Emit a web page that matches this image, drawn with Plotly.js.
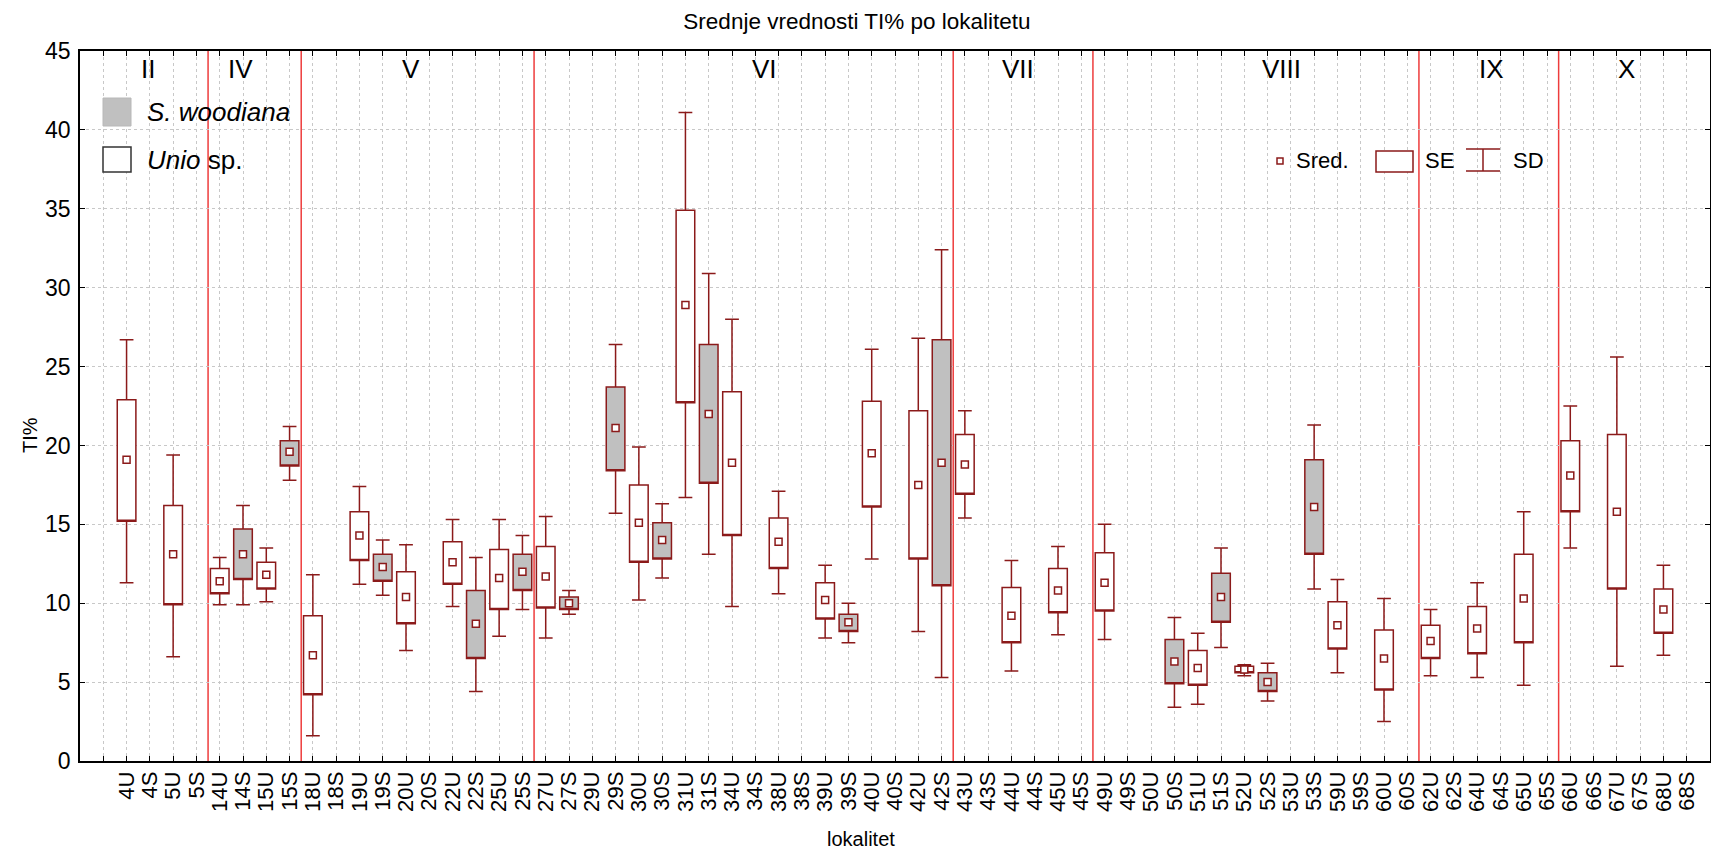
<!DOCTYPE html>
<html>
<head>
<meta charset="utf-8">
<script src="https://cdn.plot.ly/plotly-3.0.1.min.js"></script>
<style>
  html, body { margin: 0; padding: 0; background: #fff; }
  #chart { width: 1711px; height: 854px; }
</style>
</head>
<body>
<div id="chart"></div>
<script>
// lokaliteti (U = Unio sp., S = S. woodiana)
const categories = ['4U','4S','5U','5S','14U','14S','15U','15S','18U','18S','19U','19S','20U','20S',
    '22U','22S','25U','25S','27U','27S','29U','29S','30U','30S','31U','31S','34U','34S','38U','38S',
    '39U','39S','40U','40S','42U','42S','43U','43S','44U','44S','45U','45S','49U','49S','50U','50S',
    '51U','51S','52U','52S','53U','53S','59U','59S','60U','60S','62U','62S','64U','64S','65U','65S',
    '66U','66S','67U','67S','68U','68S'];

// srednja vrednost TI%
const means = [19.1,null,13.1,null,11.4,13.1,11.8,19.6,6.7,null,14.3,12.3,10.4,null,
    12.6,8.7,11.6,12.0,11.7,10.0,null,21.1,15.1,14.0,28.9,22.0,18.9,null,13.9,null,
    10.2,8.8,19.5,null,17.5,18.9,18.8,null,9.2,null,10.8,null,11.3,null,null,6.3,
    5.9,10.4,5.8,5.0,null,16.1,8.6,null,6.5,null,7.6,null,8.4,null,10.3,null,
    18.1,null,15.8,null,9.6,null];

// sredina -/+ SE
const seLow = [15.2,null,9.9,null,10.6,11.5,10.9,18.7,4.2,null,12.7,11.4,8.7,null,
    11.2,6.5,9.6,10.8,9.7,9.6,null,18.4,12.6,12.8,22.7,17.6,14.3,null,12.2,null,
    9.0,8.2,16.1,null,12.8,11.1,16.9,null,7.5,null,9.4,null,9.5,null,null,4.9,
    4.8,8.8,5.6,4.4,null,13.1,7.1,null,4.5,null,6.5,null,6.8,null,7.5,null,
    15.8,null,10.9,null,8.1,null];
const seHigh = [22.9,null,16.2,null,12.2,14.7,12.6,20.3,9.2,null,15.8,13.1,12.0,null,
    13.9,10.8,13.4,13.1,13.6,10.4,null,23.7,17.5,15.1,34.9,26.4,23.4,null,15.4,null,
    11.3,9.3,22.8,null,22.2,26.7,20.7,null,11.0,null,12.2,null,13.2,null,null,7.7,
    7.0,11.9,6.0,5.6,null,19.1,10.1,null,8.3,null,8.6,null,9.8,null,13.1,null,
    20.3,null,20.7,null,10.9,null];

// sredina -/+ SD
const sdLow = [11.3,null,6.6,null,9.9,9.9,10.1,17.8,1.6,null,11.2,10.5,7.0,null,
    9.8,4.4,7.9,9.6,7.8,9.3,null,15.7,10.2,11.6,16.7,13.1,9.8,null,10.6,null,
    7.8,7.5,12.8,null,8.2,5.3,15.4,null,5.7,null,8.0,null,7.7,null,null,3.4,
    3.6,7.2,5.4,3.8,null,10.9,5.6,null,2.5,null,5.4,null,5.3,null,4.8,null,
    13.5,null,6.0,null,6.7,null];
const sdHigh = [26.7,null,19.4,null,12.9,16.2,13.5,21.2,11.8,null,17.4,14.0,13.7,null,
    15.3,12.9,15.3,14.3,15.5,10.8,null,26.4,19.9,16.3,41.1,30.9,28.0,null,17.1,null,
    12.4,10.0,26.1,null,26.8,32.4,22.2,null,12.7,null,13.6,null,15.0,null,null,9.1,
    8.1,13.5,6.1,6.2,null,21.3,11.5,null,10.3,null,9.6,null,11.3,null,15.8,null,
    22.5,null,25.6,null,12.4,null];

// grupe lokaliteta
const groupNames = ['II','IV','V','VI','VII','VIII','IX','X'];
const groupFirst = ['4U','14U','18U','27U','43U','49U','62U','66U'];

const darkRed = '#8b1a1a';
const font = 'Liberation Sans, Arial, sans-serif';

// where the group names sit, in category units
const groupLabelX = [0.9, 4.9, 12.2, 27.4, 38.3, 49.6, 58.6, 64.4];

// pixel -> paper helpers (plot area: x 80..1710, y 51..761)
function px(x) { return (x - 80) / 1630; }
function py(y) { return (761 - y) / 710; }

function pick(suffix) {
    let out = {x: [], q1: [], q3: [], lo: [], hi: []};
    categories.forEach((c, i) => {
        if (means[i] === null || !c.endsWith(suffix)) return;
        out.x.push(i);
        out.q1.push(seLow[i]);
        out.q3.push(seHigh[i]);
        out.lo.push(sdLow[i]);
        out.hi.push(sdHigh[i]);
    });
    return out;
}

function boxTrace(suffix, name, fill) {
    const d = pick(suffix);
    return {
        type: 'box',
        name: name,
        x: d.x,
        q1: d.q1,
        median: d.q1,
        q3: d.q3,
        lowerfence: d.lo,
        upperfence: d.hi,
        boxpoints: false,
        width: 0.8,
        whiskerwidth: 0.74,
        fillcolor: fill,
        line: {color: darkRed, width: 1.5},
        showlegend: false,
        hoverinfo: 'skip',
    };
}

const meanX = [], meanY = [];
means.forEach((m, i) => {
    if (m !== null) { meanX.push(i); meanY.push(m); }
});

const traces = [
    boxTrace('U', 'Unio sp.', '#ffffff'),
    boxTrace('S', 'S. woodiana', '#c0c0c0'),
    {
        type: 'scatter',
        mode: 'markers',
        name: 'Sred.',
        x: meanX,
        y: meanY,
        marker: {symbol: 'square', size: 7, color: '#ffffff', line: {color: darkRed, width: 1.5}},
        showlegend: false,
        hoverinfo: 'skip',
    },
];

function label(text, x, y, size, extra) {
    return Object.assign({
        text: text, xref: 'paper', yref: 'paper', x: x, y: y,
        xanchor: 'center', yanchor: 'middle', showarrow: false,
        font: {family: font, size: size, color: '#000'},
    }, extra || {});
}

// red separators between groups + group labels
let shapes = [];
let annotations = [];
groupFirst.forEach((c, g) => {
    const start = categories.indexOf(c);
    if (g > 0) {
        shapes.push({
            type: 'line', xref: 'x', yref: 'paper', x0: start - 0.5, x1: start - 0.5, y0: 0, y1: 1,
            line: {color: 'rgb(238,60,60)', width: 1.5}, layer: 'below',
        });
    }
    annotations.push(label(groupNames[g], groupLabelX[g], py(69), 26, {xref: 'x'}));
});

// species legend
shapes.push(
    {type: 'rect', xref: 'paper', yref: 'paper', x0: px(103), x1: px(131), y0: py(98), y1: py(126),
        fillcolor: '#c0c0c0', line: {color: '#b8b8b8', width: 1}},
    {type: 'rect', xref: 'paper', yref: 'paper', x0: px(103), x1: px(131), y0: py(147), y1: py(172),
        fillcolor: '#ffffff', line: {color: '#333333', width: 1.5}}
);
annotations.push(
    label('<i>S. woodiana</i>', px(145), py(112), 26, {xanchor: 'left'}),
    label('<i>Unio</i> sp.', px(145), py(160), 26, {xanchor: 'left'})
);

// statistics legend
shapes.push(
    {type: 'rect', xref: 'paper', yref: 'paper', x0: px(1277), x1: px(1283), y0: py(158), y1: py(164),
        fillcolor: '#ffffff', line: {color: darkRed, width: 1.5}},
    {type: 'rect', xref: 'paper', yref: 'paper', x0: px(1376), x1: px(1413), y0: py(151), y1: py(172),
        fillcolor: '#ffffff', line: {color: darkRed, width: 1.5}},
    {type: 'line', xref: 'paper', yref: 'paper', x0: px(1466), x1: px(1500), y0: py(149), y1: py(149),
        line: {color: darkRed, width: 1.5}},
    {type: 'line', xref: 'paper', yref: 'paper', x0: px(1466), x1: px(1500), y0: py(171), y1: py(171),
        line: {color: darkRed, width: 1.5}},
    {type: 'line', xref: 'paper', yref: 'paper', x0: px(1483), x1: px(1483), y0: py(149), y1: py(171),
        line: {color: darkRed, width: 1.5}}
);
[['Sred.', 1294], ['SE', 1423], ['SD', 1511]].forEach(([t, x]) => {
    annotations.push(label(t, px(x), py(160), 22, {xanchor: 'left'}));
});

// axis titles
annotations.push(
    label('TI%', px(30), py(435), 20, {textangle: -90}),
    label('lokalitet', px(861), py(839), 20)
);

const axisCommon = {
    showline: true,
    linecolor: '#000',
    linewidth: 1.5,
    mirror: 'ticks',
    ticks: 'inside',
    ticklen: 5,
    tickcolor: '#000',
    showgrid: true,
    gridcolor: '#c8c8c8',
    griddash: 'dot',
    zeroline: false,
};

const layout = {
    width: 1711,
    height: 854,
    margin: {l: 80, r: 1, t: 51, b: 93},
    paper_bgcolor: '#fff',
    plot_bgcolor: '#fff',
    font: {family: font, color: '#000'},
    title: {
        text: 'Srednje vrednosti TI% po lokalitetu',
        x: 857 / 1711,
        xanchor: 'center',
        y: 1 - 21 / 854,
        yanchor: 'middle',
        font: {family: font, size: 22.5, color: '#000'},
    },
    xaxis: Object.assign({}, axisCommon, {
        range: [-2, 68],
        tickmode: 'array',
        tickvals: [-1].concat(categories.map((c, i) => i)),
        ticktext: [''].concat(categories),
        tickangle: -90,
        tickfont: {family: font, size: 22, color: '#000'},
    }),
    yaxis: Object.assign({}, axisCommon, {
        range: [0, 45],
        tickmode: 'linear',
        tick0: 0,
        dtick: 5,
        ticklabelstandoff: 3,
        tickfont: {family: font, size: 23, color: '#000'},
    }),
    boxmode: 'overlay',
    showlegend: false,
    shapes: shapes,
    annotations: annotations,
};

Plotly.newPlot('chart', traces, layout, {displayModeBar: false, responsive: false});
</script>
</body>
</html>
